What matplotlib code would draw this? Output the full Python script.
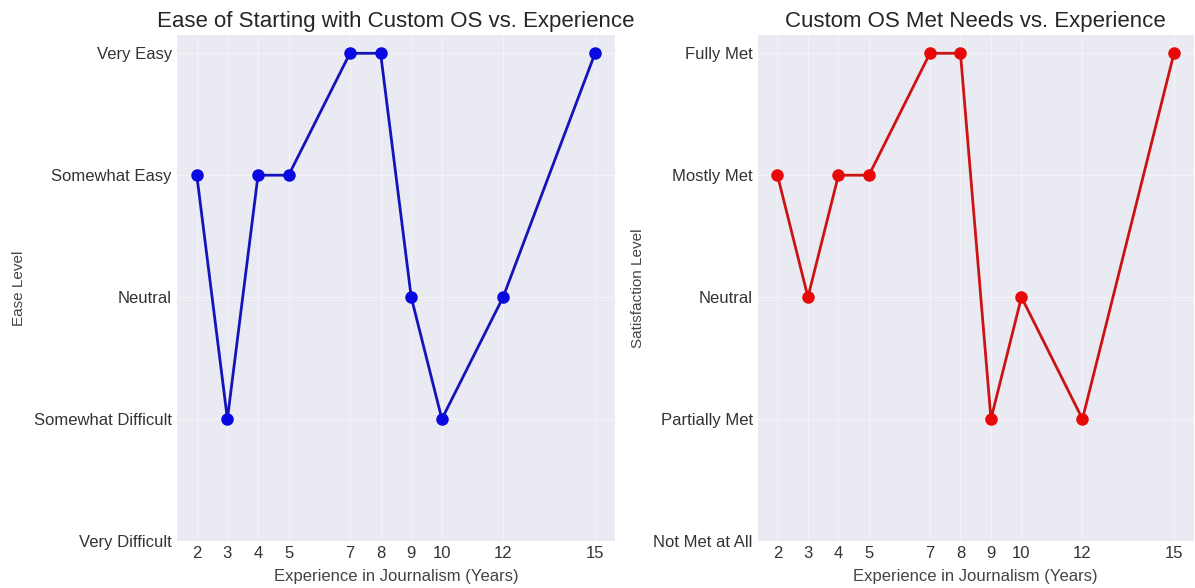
import matplotlib
matplotlib.use("Agg")
import matplotlib.pyplot as plt

years = [2, 3, 4, 5, 7, 8, 9, 10, 12, 15]
ease_levels = [3, 1, 3, 3, 4, 4, 2, 1, 2, 4]
needs_levels = [3, 2, 3, 3, 4, 4, 1, 2, 1, 4]
ease_labels = ["Very Difficult", "Somewhat Difficult", "Neutral", "Somewhat Easy", "Very Easy"]
needs_labels = ["Not Met at All", "Partially Met", "Neutral", "Mostly Met", "Fully Met"]

plt.style.use("seaborn-v0_8-darkgrid")
plt.rcParams['font.family'] = ['Liberation Sans', 'DejaVu Sans']

fig = plt.figure(figsize=(11.95, 5.88), dpi=100)
ax1 = fig.add_axes([0.148, 0.080, 0.5146 - 0.148, 0.9405 - 0.080])
ax2 = fig.add_axes([0.634, 0.080, 0.999 - 0.634, 0.9405 - 0.080])

specs = [
    (ax1, ease_levels, ease_labels, "#1414b8", "#0808e0",
     "Ease of Starting with Custom OS vs. Experience", "Ease Level"),
    (ax2, needs_levels, needs_labels, "#cc1414", "#e80808",
     "Custom OS Met Needs vs. Experience", "Satisfaction Level"),
]
for ax, vals, labels, lc, mc, title, ylab in specs:
    ax.plot(years, vals, color=lc, linewidth=2, marker='o', markersize=8,
            markerfacecolor=mc, markeredgecolor=mc)
    ax.set_xticks(years)
    ax.set_yticks(range(len(labels)))
    ax.set_yticklabels(labels)
    ax.tick_params(axis='both', labelsize=12, colors='#333333')
    ax.set_title(title, fontsize=16, color='#262626')
    ax.set_xlabel("Experience in Journalism (Years)", fontsize=12, color='#444444', labelpad=6)
    ax.set_ylabel(ylab, fontsize=11, color='#444444', labelpad=6)
    ax.grid(True, color='white', linewidth=0.6, alpha=0.6)

fig.savefig("out.png", dpi=100)
